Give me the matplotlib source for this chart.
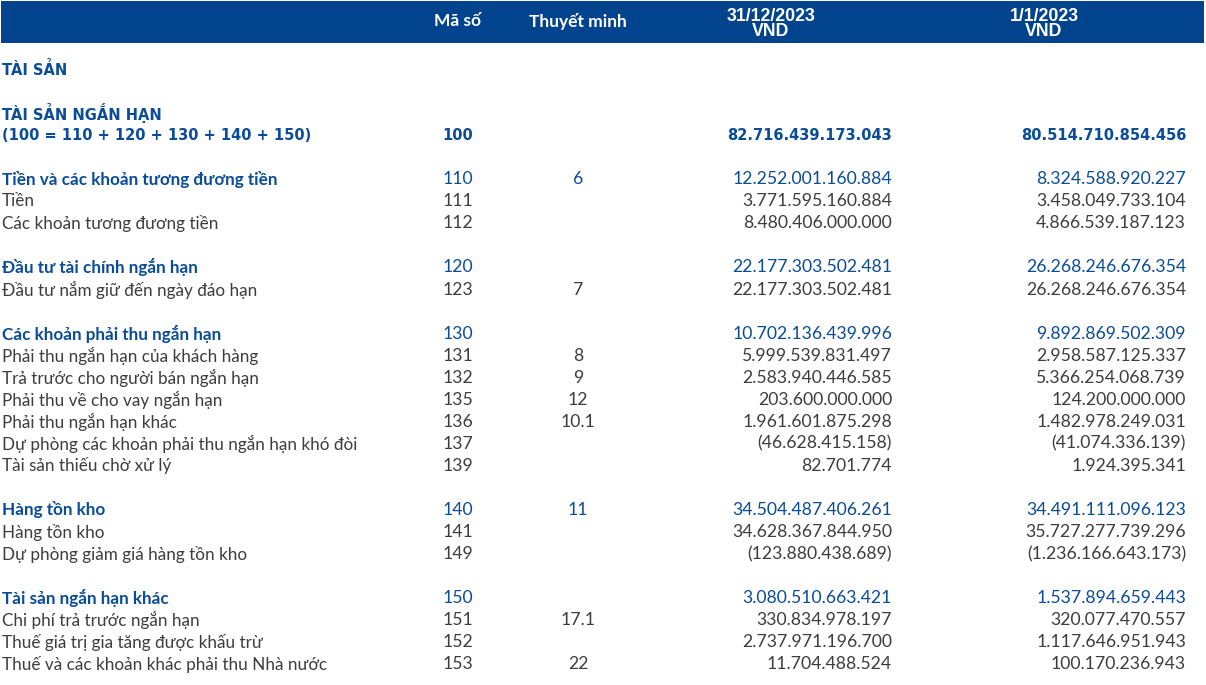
import matplotlib
matplotlib.use("Agg")
import matplotlib.pyplot as plt
from matplotlib.patches import Rectangle

# table content (blank strings = spacer rows)
labels = [
    "TÀI SẢN", "",
    "TÀI SẢN NGẮN HẠN", "(100 = 110 + 120 + 130 + 140 + 150)", "",
    "Tiền và các khoản tương đương tiền", "Tiền", "Các khoản tương đương tiền", "",
    "Đầu tư tài chính ngắn hạn", "Đầu tư nắm giữ đến ngày đáo hạn", "",
    "Các khoản phải thu ngắn hạn", "Phải thu ngắn hạn của khách hàng",
    "Trả trước cho người bán ngắn hạn", "Phải thu về cho vay ngắn hạn",
    "Phải thu ngắn hạn khác", "Dự phòng các khoản phải thu ngắn hạn khó đòi",
    "Tài sản thiếu chờ xử lý", "",
    "Hàng tồn kho", "Hàng tồn kho", "Dự phòng giảm giá hàng tồn kho", "",
    "Tài sản ngắn hạn khác", "Chi phí trả trước ngắn hạn",
    "Thuế giá trị gia tăng được khấu trừ", "Thuế và các khoản khác phải thu Nhà nước",
]
codes = [
    "", "",
    "", "100", "",
    "110", "111", "112", "",
    "120", "123", "",
    "130", "131", "132", "135", "136", "137", "139", "",
    "140", "141", "149", "",
    "150", "151", "152", "153",
]
notes = [
    "", "",
    "", "", "",
    "6", "", "", "",
    "", "7", "",
    "", "8", "9", "12", "10.1", "", "", "",
    "11", "", "", "",
    "", "17.1", "", "22",
]
val_2023 = [
    "", "",
    "", "82.716.439.173.043", "",
    "12.252.001.160.884", "3.771.595.160.884", "8.480.406.000.000", "",
    "22.177.303.502.481", "22.177.303.502.481", "",
    "10.702.136.439.996", "5.999.539.831.497", "2.583.940.446.585",
    "203.600.000.000", "1.961.601.875.298", "(46.628.415.158)", "82.701.774", "",
    "34.504.487.406.261", "34.628.367.844.950", "(123.880.438.689)", "",
    "3.080.510.663.421", "330.834.978.197", "2.737.971.196.700", "11.704.488.524",
]
val_2022 = [
    "", "",
    "", "80.514.710.854.456", "",
    "8.324.588.920.227", "3.458.049.733.104", "4.866.539.187.123", "",
    "26.268.246.676.354", "26.268.246.676.354", "",
    "9.892.869.502.309", "2.958.587.125.337", "5.366.254.068.739",
    "124.200.000.000", "1.482.978.249.031", "(41.074.336.139)", "1.924.395.341", "",
    "34.491.111.096.123", "35.727.277.739.296", "(1.236.166.643.173)", "",
    "1.537.894.659.443", "320.077.470.557", "1.117.646.951.943", "100.170.236.943",
]
# row kind: top = uppercase headings, sub = blue subtotal rows, item = plain rows
kinds = [
    "top", "",
    "top", "top", "",
    "sub", "item", "item", "",
    "sub", "item", "",
    "sub", "item", "item", "item", "item", "item", "item", "",
    "sub", "item", "item", "",
    "sub", "item", "item", "item",
]

BLUE = "#0a4c97"
GREY = "#3d3d3d"
BAR = "#01448d"
BODY = "Lato"
HEAD = "DejaVu Sans"

fig = plt.figure(figsize=(12.06, 6.85), dpi=100)
ax = fig.add_axes([0, 0, 1, 1])
ax.set_xlim(0, 1206)
ax.set_ylim(685, 0)
ax.axis("off")

ax.add_patch(Rectangle((1, 1), 1203, 42, color=BAR, lw=0))
hkw = dict(color="white", fontsize=12.5, family=BODY, fontweight="bold",
           ha="center", va="center")
ax.text(458, 21, "Mã số", **hkw)
ax.text(578, 21, "Thuyết minh", **hkw)
dkw = dict(color="white", fontsize=12.8, family="Liberation Sans",
           fontweight="bold", ha="center", va="center")
ax.text(771, 16.5, "31/12/2023", **dkw)
ax.text(771, 31.5, "VND", **dkw)
ax.text(1044, 16.5, "1/1/2023", **dkw)
ax.text(1044, 31.5, "VND", **dkw)

y0, step = 69, 22.05
for i, lab in enumerate(labels):
    k = kinds[i]
    if not k:
        continue
    y = y0 + i * step
    if k == "top":
        kw = dict(color=BLUE, family=HEAD, fontweight="bold", fontsize=10.5)
        nkw = dict(kw)
    elif k == "sub":
        kw = dict(color=BLUE, family=BODY, fontweight="bold", fontsize=12.3)
        nkw = dict(color=BLUE, family=BODY, fontsize=12.7)
    else:
        kw = dict(color=GREY, family=BODY, fontsize=12.3)
        nkw = dict(color=GREY, family=BODY, fontsize=12.7)
    ax.text(2, y, lab, ha="left", va="center", **kw)
    ax.text(458, y, codes[i], ha="center", va="center", **nkw)
    ax.text(578, y, notes[i], ha="center", va="center", **nkw)
    ax.text(892, y, val_2023[i], ha="right", va="center", **nkw)
    ax.text(1186, y, val_2022[i], ha="right", va="center", **nkw)

fig.savefig("out.png", dpi=100)
